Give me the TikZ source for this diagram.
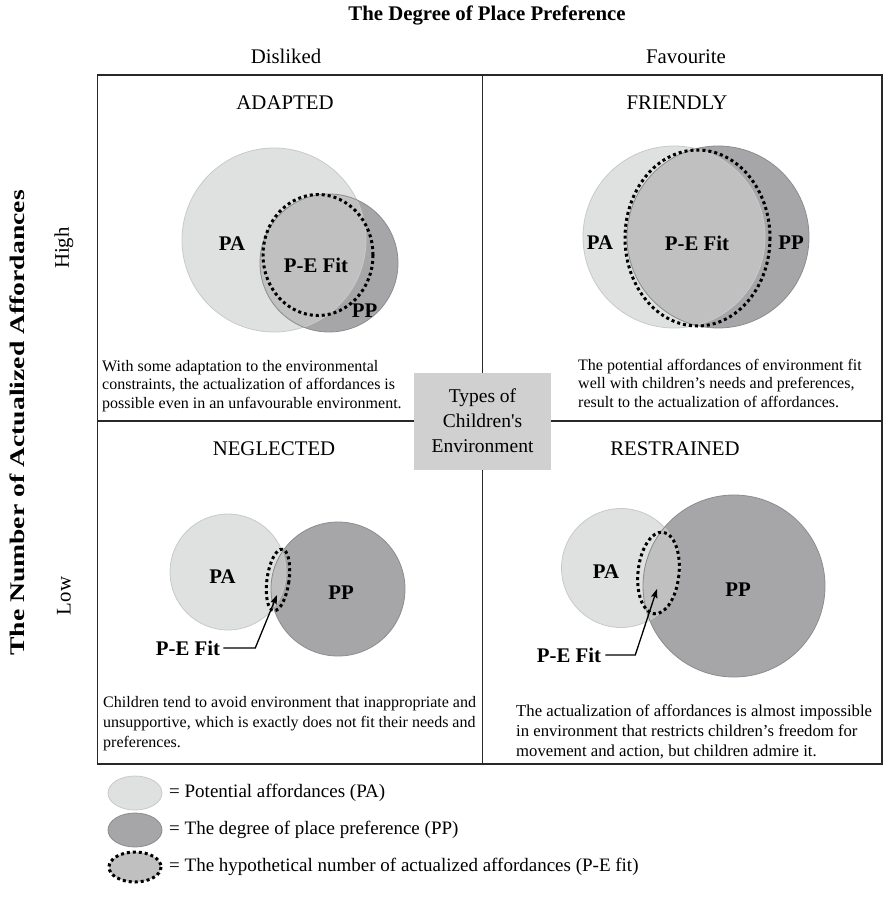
\documentclass[tikz,border=0pt]{standalone}
\usepackage{fontspec}
\setmainfont{Liberation Serif}
\usepackage{graphicx}
\usetikzlibrary{arrows.meta}
\definecolor{pacol}{RGB}{223,225,225}
\definecolor{ppcol}{RGB}{166,166,168}
\definecolor{ovcol}{RGB}{192,192,193}
\definecolor{paline}{RGB}{200,202,202}
\definecolor{ppline}{RGB}{140,140,142}
\definecolor{boxcol}{RGB}{208,208,208}
\definecolor{gridcol}{RGB}{40,40,40}
\newcommand\vennpair[6]{%
  \fill[pacol] (#1,#2) circle[radius=#3];
  \fill[ppcol] (#4,#5) circle[radius=#6];
  \begin{scope}
    \clip (#1,#2) circle[radius=#3];
    \fill[ovcol] (#4,#5) circle[radius=#6];
  \end{scope}
  \draw[paline, line width=0.8pt] (#1,#2) circle[radius=#3];
  \draw[ppline, line width=0.8pt] (#4,#5) circle[radius=#6];
}
\begin{document}
\begin{tikzpicture}[x=1pt,y=-1pt,
  every node/.style={inner sep=0pt, text=black},
  body/.style={font=\fontsize{16}{18.5}\selectfont, align=left, anchor=north west},
  bodyb/.style={font=\fontsize{16}{20}\selectfont, align=left, anchor=north west},
  bodyc/.style={font=\fontsize{16.7}{20}\selectfont, align=left, anchor=north west},
  qtitle/.style={font=\fontsize{20.8}{24}\selectfont, anchor=base},
  lab/.style={font=\fontsize{20.8}{24}\selectfont\bfseries},
  axis/.style={font=\fontsize{20.8}{24}\selectfont},
  pefit/.style={draw=black, line width=3pt, dash pattern=on 3pt off 3pt},
  gridline/.style={draw=gridcol, line width=1.5pt},
  arr/.style={draw=black, line width=1.3pt, -{Stealth[length=9pt,width=6.5pt,inset=1.5pt]}},
  legtext/.style={font=\fontsize{19}{22}\selectfont, anchor=west}
]
\useasboundingbox (0,0) rectangle (885,915);

% headings
\node[font=\fontsize{20.8}{24}\selectfont\bfseries, anchor=base] (htitle) at (487,20.5) {The Degree of Place Preference};
\node[axis, anchor=base] (dis) at (286,64) {Disliked};
\node[axis, anchor=base] (fav) at (686,64) {Favourite};
\node[font=\fontsize{20.8}{24}\selectfont\bfseries, rotate=90] (vtitle) at (17,423) {\scalebox{1.33}[1]{The Number of Actualized Affordances}};
\node[axis, rotate=90] (high) at (64,248) {High};
\node[axis, rotate=90] (low) at (64,596) {Low};

% grid
\draw[gridline] (97.5,75) rectangle (882,764);
\draw[gridline] (97.5,421) -- (882,421);
\draw[gridline] (482.5,75) -- (482.5,764);

% quadrant titles
\node[qtitle] (tadapt) at (285,110) {ADAPTED};
\node[qtitle] (tfriend) at (677,110) {FRIENDLY};
\node[qtitle] (tneg) at (274,455) {NEGLECTED};
\node[qtitle] (trest) at (675,455) {RESTRAINED};

% ADAPTED
\vennpair{274}{240}{92}{329}{263}{69}
\draw[pefit] (318,255) ellipse[x radius=55, y radius=60.5];
\node[lab] (pa1) at (232,244) {PA};
\node[lab] (pef1) at (316,265) {P-E Fit};
\node[lab] (pp1) at (364.5,311) {PP};

% FRIENDLY
\vennpair{674}{237}{91}{718}{237}{91}
\draw[pefit] (697.5,238) ellipse[x radius=72.5, y radius=88];
\node[lab] (pa2) at (600,243) {PA};
\node[lab] (pef2) at (697,243) {P-E Fit};
\node[lab] (pp2) at (791,243) {PP};

% NEGLECTED
\vennpair{228}{572}{58}{338}{589}{67}
\draw[pefit, rotate around={-8:(278,580)}] (278,580) ellipse[x radius=11, y radius=31];
\node[lab] (pa3) at (222.5,577) {PA};
\node[lab] (pp3) at (341,593) {PP};
\node[lab] (pef3) at (188,648) {P-E Fit};
\coordinate (t3) at (277,595);
\draw[arr] ([xshift=3pt]pef3.east) -- ++(32,0) -- (t3);

% RESTRAINED
\vennpair{621}{568}{59.5}{734}{586}{91}
\draw[pefit, rotate around={-6:(658.5,573)}] (658.5,573) ellipse[x radius=20.5, y radius=41];
\node[lab] (pa4) at (606,572) {PA};
\node[lab] (pp4) at (738,590) {PP};
\node[lab] (pef4) at (569,655) {P-E Fit};
\coordinate (t4) at (657,589);
\draw[arr] ([xshift=4pt]pef4.east) -- ++(30,0) -- (t4);

% descriptions
\node[body] (dtl) at (102,360) {With some adaptation to the environmental\\constraints, the actualization of affordances is\\possible even in an unfavourable environment.};
\node[body] (dtr) at (578,359) {The potential affordances of environment fit\\well with children’s needs and preferences,\\result to the actualization of affordances.};
\node[bodyb] (dbl) at (103,696) {Children tend to avoid environment that inappropriate and\\unsupportive, which is exactly does not fit their needs and\\preferences.};
\node[bodyc] (dbr) at (516,705) {The actualization of affordances is almost impossible\\in environment that restricts children’s freedom for\\movement and action, but children admire it.};

% centre box
\node[fill=boxcol, minimum width=137pt, minimum height=97pt, align=center,
      font=\fontsize{19.5}{25}\selectfont] (types) at (482.5,421) {Types of\\Children\textquotesingle s\\Environment};

% legend
\fill[pacol] (135,793) ellipse[x radius=27, y radius=17];
\draw[paline, line width=0.8pt] (135,793) ellipse[x radius=27, y radius=17];
\fill[ppcol] (135,830) ellipse[x radius=27, y radius=17];
\draw[ppline, line width=0.8pt] (135,830) ellipse[x radius=27, y radius=17];
\fill[ovcol] (135,867) ellipse[x radius=26, y radius=15];
\draw[pefit] (135,867) ellipse[x radius=26, y radius=15];
\node[legtext] (leg1) at (169,793) {= Potential affordances (PA)};
\node[legtext] (leg2) at (169,830) {= The degree of place preference (PP)};
\node[legtext] (leg3) at (169,867) {= The hypothetical number of actualized affordances (P-E fit)};
\end{tikzpicture}
\end{document}
